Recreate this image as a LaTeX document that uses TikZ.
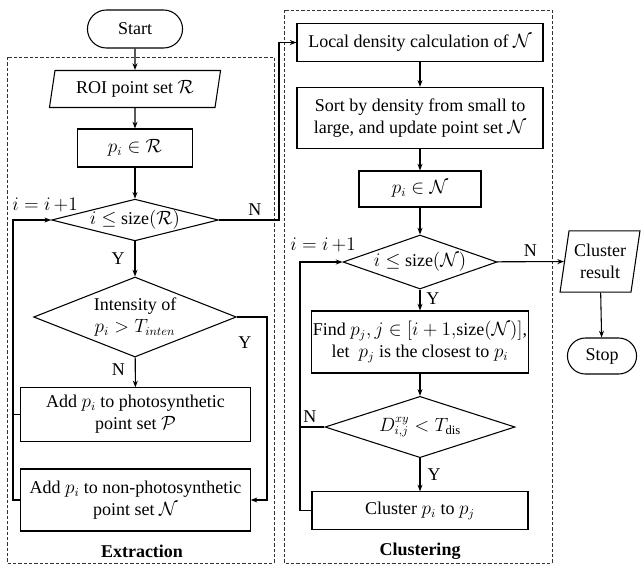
\documentclass[tikz,border=0pt]{standalone}
\usepackage{fontspec}
\setmainfont{Liberation Serif}
\usetikzlibrary{shapes,arrows.meta}

\begin{document}
\begin{tikzpicture}[x=0.75pt,y=-0.75pt,font=\fontsize{13.5}{16.5}\selectfont,
  box/.style={shape=rectangle,draw=black,align=center,line width=0.8pt,inner sep=1pt},
  dec/.style={shape=diamond,draw=black,align=center,line width=0.8pt,inner sep=0pt},
  io/.style={shape=trapezium,trapezium left angle=78,trapezium right angle=102,trapezium stretches=true,draw=black,align=center,line width=0.8pt,inner sep=1pt},
  term/.style={shape=rounded rectangle,draw=black,align=center,line width=0.8pt},
  link/.style={draw=black,line width=0.8pt},
  frame/.style={draw=black!80,line width=0.6pt,dash pattern=on 2.5pt off 1.5pt}]
\useasboundingbox (0,0) rectangle (641,565);

% frames
\draw[frame] (7,57) rectangle (274,563);
\draw[frame] (284,10) rectangle (552,563);
\node[font=\fontsize{13.5}{16.5}\selectfont\bfseries] (e) at (142,551) {Extraction};
\node[font=\fontsize{13.5}{16.5}\selectfont\bfseries] (f) at (420,551) {Clustering};

% extraction
\node[term,minimum width=78pt,minimum height=28.5pt] (0) at (135,29) {Start};
\node[io,minimum width=129pt,minimum height=27.75pt] (1) at (135,89) {ROI point set $\mathcal{R}$};
\node[box,minimum width=86pt,minimum height=28.5pt] (2) at (135,148) {$p_i \in \mathcal{R}$};
\node[dec,aspect=4,minimum width=115.5pt,minimum height=28.5pt] (3) at (135,220) {$i \leq$ size$(\mathcal{R})$};
\node[dec,aspect=2.5,minimum width=152pt,minimum height=60pt] (4) at (135,317) {Intensity of\\$p_i > T_{inten}$};
\node[box,minimum width=172pt,minimum height=40pt] (5) at (135.5,414.5) {Add $p_i$ to photosynthetic\\point set $\mathcal{P}$};
\node[box,minimum width=172pt,minimum height=46.5pt] (6) at (135.5,500) {Add $p_i$ to non-photosynthetic\\point set $\mathcal{N}$};

% clustering
\node[box,minimum width=184.5pt,minimum height=28pt] (7) at (420,42.5) {Local density calculation of $\mathcal{N}$};
\node[box,minimum width=184.5pt,minimum height=46pt] (8) at (420,118) {Sort by density from small to\\large, and update point set $\mathcal{N}$};
\node[box,minimum width=91.5pt,minimum height=27pt] (9) at (420,189) {$p_i \in \mathcal{N}$};
\node[dec,aspect=2.85,minimum width=115.5pt,minimum height=40.5pt] (10) at (420,262) {$i \leq$ size$(\mathcal{N})$};
\node[box,minimum width=162pt,minimum height=46.5pt] (11) at (420,342) {Find $p_j, j \in [i+1,$size$(\mathcal{N})]$,\\let~ $p_j$ is the closest to $p_i$};
\node[dec,aspect=3.1,minimum width=142.5pt,minimum height=46pt] (12) at (420,427) {$D_{i,j}^{xy} < T_{\mathrm{dis}}$};
\node[box,minimum width=162pt,minimum height=28pt] (13) at (420,510.5) {Cluster $p_i$ to $p_j$};
\node[io,minimum width=60pt,minimum height=46pt] (14) at (600,261.5) {Cluster\\result};
\node[term,minimum width=58.5pt,minimum height=27pt] (15) at (602,356) {Stop};

\coordinate (a) at (267,317);
\coordinate (b) at (13,220);
\coordinate (c) at (279,42.5);
\coordinate (d) at (300,262);

\path [-{Stealth[length=5pt]},link] (0) edge (1);
\path [-{Stealth[length=5pt]},link] (1) edge (2);
\path [-{Stealth[length=5pt]},link] (2) edge (3);
\path [-{Stealth[length=5pt]},link] (3) edge node[left=4pt] {Y} (4);
\path [-{Stealth[length=5pt]},link] (4) edge node[left=4pt,pos=0.4] {N} (5);
\draw [-{Stealth[length=5pt]},link] (4.east) -- (a) |- node[pos=0.07,left=8pt] {Y} (6.east);
\draw [-{Stealth[length=5pt]},link] (6.west) -| (b) -- (3.west);
\draw [link] (5.west) -- (5.west -| b);
\draw [-{Stealth[length=5pt]},link] (3.east) -| node[pos=0.3,above] {N} (c) -- (7.west);
\node (g) at (45,205) {$i=i\,{+}1$};

\path [-{Stealth[length=5pt]},link] (7) edge (8);
\path [-{Stealth[length=5pt]},link] (8) edge (9);
\path [-{Stealth[length=5pt]},link] (9) edge (10);
\path [-{Stealth[length=5pt]},link] (10) edge node[right=1pt,pos=0.45] {Y} (11);
\path [-{Stealth[length=5pt]},link] (11) edge (12);
\path [-{Stealth[length=5pt]},link] (12) edge node[right=2pt] {Y} (13);
\draw [-{Stealth[length=5pt]},link] (13.west) -| (d) -- (10.west);
\draw [link] (12.west) -- node[pos=0.6,above] {N} (12.west -| d);
\node (h) at (323,245) {$i=i\,{+}1$};
\path [-{Stealth[length=5pt]},link] (10) edge node[above] {N} (14);
\path [-{Stealth[length=5pt]},link] (14) edge (15);
\end{tikzpicture}
\end{document}
